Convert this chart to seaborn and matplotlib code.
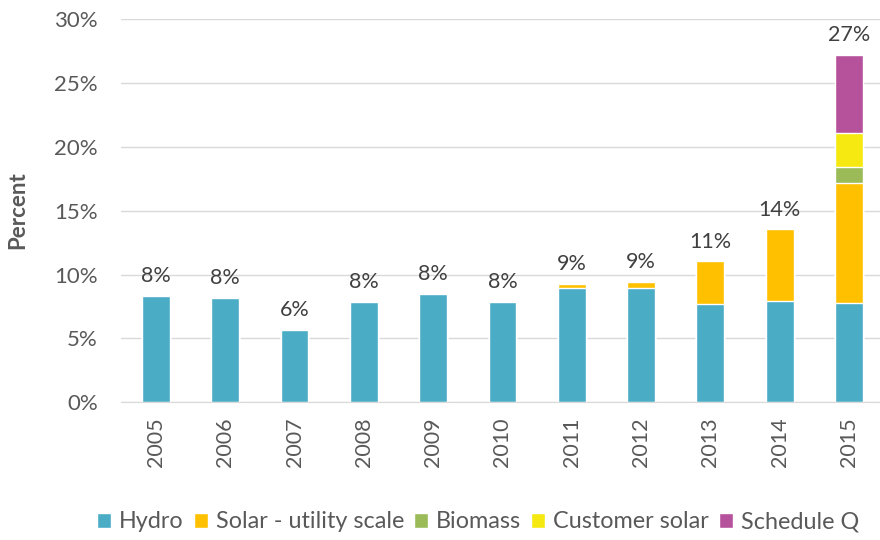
import numpy as np
import pandas as pd
import seaborn as sns
import matplotlib.pyplot as plt

# data (percent of retail sales)
years = ['2005', '2006', '2007', '2008', '2009', '2010', '2011', '2012', '2013', '2014', '2015']
hydro = [8.33, 8.17, 5.65, 7.84, 8.46, 7.86, 8.95, 8.95, 7.68, 7.94, 7.76]
solar_utility = [0, 0, 0, 0, 0, 0, 0.32, 0.45, 3.36, 5.60, 9.37]
biomass = [0, 0, 0, 0, 0, 0, 0, 0, 0, 0, 1.25]
customer_solar = [0, 0, 0, 0, 0, 0, 0, 0, 0, 0, 2.66]
schedule_q = [0, 0, 0, 0, 0, 0, 0, 0, 0, 0, 6.16]

series_names = ['Hydro', 'Solar - utility scale', 'Biomass', 'Customer solar', 'Schedule Q']
series_colors = ['#4BACC6', '#FFC000', '#9BBB59', '#F5E911', '#B6519C']

df = pd.DataFrame({'Year': years, 'Hydro': hydro, 'Solar - utility scale': solar_utility,
                   'Biomass': biomass, 'Customer solar': customer_solar, 'Schedule Q': schedule_q})

sns.set_style('white')
plt.rcParams['font.family'] = ['Lato', 'DejaVu Sans']

fig = plt.figure(figsize=(8.8, 5.4), dpi=100)
# axes runs slightly past the right edge like the original
ax = fig.add_axes([121.3 / 880, 1 - 402.3 / 540, 762.3 / 880, 383.3 / 540])

# stacked bars: draw cumulative totals from the top layer down
cum = df[series_names].cumsum(axis=1)
for name, color in reversed(list(zip(series_names, series_colors))):
    sns.barplot(x=df['Year'], y=cum[name], color=color, width=0.4, ax=ax,
                saturation=1, label=name, order=years)

totals = cum['Schedule Q'].values
for i, t in enumerate(totals):
    ax.annotate(f'{t:.0f}%', (i, t), xytext=(0, 7), textcoords='offset points',
                ha='center', va='bottom', fontsize=15.5, color='#404040')

ax.set_xlim(-0.5, 10.5)
ax.set_ylim(0, 30)
ax.set_yticks(np.arange(0, 31, 5))
ax.set_yticklabels([f'{v}%' for v in range(0, 31, 5)])
ax.yaxis.grid(True, color='#D9D9D9', linewidth=1)
ax.set_axisbelow(True)
for s in ['top', 'right', 'left']:
    ax.spines[s].set_visible(False)
ax.spines['bottom'].set_color('#D9D9D9')
ax.tick_params(axis='y', length=0, pad=17, labelsize=16, labelcolor='#595959')
ax.tick_params(axis='x', length=0, pad=11, labelsize=15.5, labelcolor='#595959')
plt.setp(ax.get_xticklabels(), rotation=90)
ax.set_xlabel('')
ax.set_ylabel('')
fig.text(17.5 / 880, 1 - 210 / 540, 'Percent', rotation=90, ha='center', va='center',
         fontsize=16, fontweight='bold', color='#595959')

# legend in the original order, kept just inside the right edge
handles, labels = ax.get_legend_handles_labels()
order = [labels.index(n) for n in series_names]
if ax.legend_:
    ax.legend_.remove()
fig.legend([handles[i] for i in order], series_names, loc='center left',
           bbox_to_anchor=(97 / 880, 1 - 522 / 540), ncol=5, frameon=False,
           fontsize=16.8, labelcolor='#595959', handlelength=0.62, handleheight=0.62,
           handletextpad=0.33, columnspacing=0.42, borderaxespad=0, borderpad=0)

fig.savefig('out.png', dpi=100)
